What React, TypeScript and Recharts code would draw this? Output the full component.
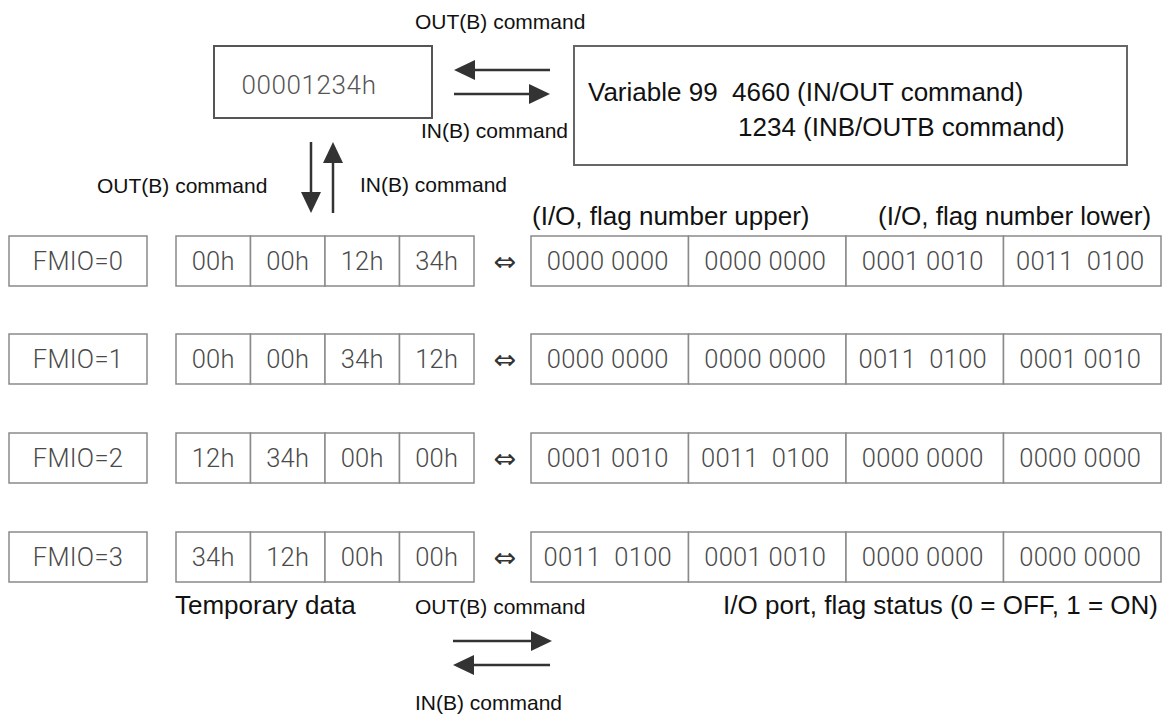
import React from 'react';
import {
  ComposedChart,
  XAxis,
  YAxis,
  ReferenceArea,
  ReferenceLine,
  ReferenceDot,
} from 'recharts';

// --- text / values ---
const FMIO_LABELS = ['FMIO=0', 'FMIO=1', 'FMIO=2', 'FMIO=3'];
const TEMP_BYTES = [
  ['00h', '00h', '12h', '34h'],
  ['00h', '00h', '34h', '12h'],
  ['12h', '34h', '00h', '00h'],
  ['34h', '12h', '00h', '00h'],
];
const PORT_BITS = [
  ['0000 0000', '0000 0000', '0001 0010', '0011  0100'],
  ['0000 0000', '0000 0000', '0011  0100', '0001 0010'],
  ['0001 0010', '0011  0100', '0000 0000', '0000 0000'],
  ['0011  0100', '0001 0010', '0000 0000', '0000 0000'],
];
const REGISTER_VALUE = '00001234h';
const VARIABLE_LINES = ['Variable 99  4660 (IN/OUT command)', '1234 (INB/OUTB command)'];
const CAPTIONS = [
  'OUT(B) command',
  'IN(B) command',
  'OUT(B) command',
  'IN(B) command',
  '(I/O, flag number upper)',
  '(I/O, flag number lower)',
  'Temporary data',
  'OUT(B) command',
  'I/O port, flag status (0 = OFF, 1 = ON)',
  'IN(B) command',
];

// --- layout (px in a 1163 x 715 frame) ---
const W = 1163;
const H = 715;
const ROW_TOP = [236, 334, 433, 532];
const ROW_H = 50;
const FMIO_BOX = [9, 147];
const HEX_X0 = 176;
const HEX_W = 74.5;
const BIN_X0 = 531;
const BIN_W = 157.5;
const BIN_TEXT_SHIFT = -2;
const SWAP_X = 505;

const CAPTION_POS = [
  { x: 415, y: 21, size: 21, anchor: 'start' },
  { x: 421, y: 130, size: 21, anchor: 'start' },
  { x: 97, y: 185, size: 21, anchor: 'start' },
  { x: 360, y: 184, size: 21, anchor: 'start' },
  { x: 532, y: 216, size: 26, anchor: 'start' },
  { x: 878, y: 216, size: 26, anchor: 'start' },
  { x: 175, y: 605, size: 26, anchor: 'start' },
  { x: 415, y: 606, size: 21, anchor: 'start' },
  { x: 1158, y: 605, size: 26, anchor: 'end' },
  { x: 415, y: 702, size: 21, anchor: 'start' },
];
const VARIABLE_POS = [
  { x: 588, y: 92 },
  { x: 738, y: 127 },
];

// arrows: from -> tip
const ARROWS = [
  { x1: 550, y1: 70, x2: 454, y2: 70 },
  { x1: 454, y1: 94, x2: 550, y2: 94 },
  { x1: 311, y1: 142, x2: 311, y2: 213 },
  { x1: 333, y1: 213, x2: 333, y2: 142 },
  { x1: 453, y1: 641, x2: 552, y2: 641 },
  { x1: 550, y1: 665, x2: 453, y2: 665 },
];

const LABEL_FONT = '"Liberation Sans", Arial, sans-serif';
const CELL_FONT = 'Roboto, "Liberation Sans", sans-serif';
const ARROW_COLOR = '#333';
const CELL_STROKE = '#8a8a8a';

const textShape =
  (text: string, size: number, anchor: string, fill: string, family: string, weight = 400, spacing = 0) =>
  (p: any) => (
    <text
      x={p.cx}
      y={p.cy}
      textAnchor={anchor}
      dominantBaseline="central"
      fontSize={size}
      fontFamily={family}
      fontWeight={weight}
      letterSpacing={spacing}
      fill={fill}
      style={{ whiteSpace: 'pre' }}
    >
      {text}
    </text>
  );

const headShape = (dx: number, dy: number) => (p: any) => {
  const len = 21;
  const half = 10;
  const bx = p.cx - dx * len;
  const by = p.cy - dy * len;
  const px = -dy * half;
  const py = dx * half;
  return (
    <path
      d={`M${p.cx},${p.cy} L${bx + px},${by + py} L${bx - px},${by - py} Z`}
      fill={ARROW_COLOR}
    />
  );
};

const Cell = (x1: number, x2: number, y1: number, key: string) => (
  <ReferenceArea
    key={key}
    x1={x1}
    x2={x2}
    y1={y1}
    y2={y1 + ROW_H}
    fill="#fff"
    fillOpacity={1}
    stroke={CELL_STROKE}
    strokeWidth={1.5}
    ifOverflow="visible"
  />
);

const CellText = (x: number, y: number, text: string, key: string) => (
  <ReferenceDot
    key={key}
    x={x}
    y={y}
    r={0}
    ifOverflow="visible"
    shape={textShape(text, 25.5, 'middle', '#4a4a4a', CELL_FONT, 300, 0.3)}
  />
);

export default function App() {
  const marks: React.ReactNode[] = [];

  ROW_TOP.forEach((top, r) => {
    const cy = top + ROW_H / 2;
    marks.push(Cell(FMIO_BOX[0], FMIO_BOX[1], top, `f${r}`));
    marks.push(CellText((FMIO_BOX[0] + FMIO_BOX[1]) / 2, cy, FMIO_LABELS[r], `ft${r}`));
    TEMP_BYTES[r].forEach((b, i) => {
      const x1 = HEX_X0 + i * HEX_W;
      marks.push(Cell(x1, x1 + HEX_W, top, `h${r}${i}`));
      marks.push(CellText(x1 + HEX_W / 2, cy, b, `ht${r}${i}`));
    });
    PORT_BITS[r].forEach((b, i) => {
      const x1 = BIN_X0 + i * BIN_W;
      marks.push(Cell(x1, x1 + BIN_W, top, `b${r}${i}`));
      marks.push(CellText(x1 + BIN_W / 2 + BIN_TEXT_SHIFT, cy, b, `bt${r}${i}`));
    });
    marks.push(
      <ReferenceDot
        key={`sw${r}`}
        x={SWAP_X}
        y={cy}
        r={0}
        ifOverflow="visible"
        shape={textShape('\u21D4', 27, 'middle', '#333', '"DejaVu Sans", sans-serif')}
      />
    );
  });

  ARROWS.forEach((a, i) => {
    const len = Math.hypot(a.x2 - a.x1, a.y2 - a.y1);
    const dx = (a.x2 - a.x1) / len;
    const dy = (a.y2 - a.y1) / len;
    marks.push(
      <ReferenceLine
        key={`as${i}`}
        segment={[
          { x: a.x1, y: a.y1 },
          { x: a.x2 - dx * 10, y: a.y2 - dy * 10 },
        ]}
        stroke={ARROW_COLOR}
        strokeWidth={2.5}
        ifOverflow="visible"
      />
    );
    marks.push(
      <ReferenceDot
        key={`ah${i}`}
        x={a.x2}
        y={a.y2}
        r={0}
        ifOverflow="visible"
        shape={headShape(dx, dy)}
      />
    );
  });

  CAPTIONS.forEach((c, i) => {
    const p = CAPTION_POS[i];
    marks.push(
      <ReferenceDot
        key={`c${i}`}
        x={p.x}
        y={p.y}
        r={0}
        ifOverflow="visible"
        shape={textShape(c, p.size, p.anchor, '#111', LABEL_FONT)}
      />
    );
  });

  VARIABLE_LINES.forEach((t, i) => {
    const p = VARIABLE_POS[i];
    marks.push(
      <ReferenceDot
        key={`v${i}`}
        x={p.x}
        y={p.y}
        r={0}
        ifOverflow="visible"
        shape={textShape(t, 26, 'start', '#111', LABEL_FONT)}
      />
    );
  });

  return (
    <div style={{ position: 'absolute', left: 0, top: 0, background: '#fff' }}>
      <ComposedChart width={W} height={H} margin={{ top: 0, right: 0, bottom: 0, left: 0 }}>
        <XAxis type="number" dataKey="x" domain={[0, W]} allowDataOverflow hide />
        <YAxis type="number" dataKey="y" domain={[0, H]} allowDataOverflow reversed hide />
        {/* register box and variable box */}
        <ReferenceArea x1={214} x2={432} y1={46} y2={118} fill="#fff" fillOpacity={1} stroke="#555" strokeWidth={2} ifOverflow="visible" />
        <ReferenceArea x1={574} x2={1127} y1={46} y2={165} fill="#fff" fillOpacity={1} stroke="#666" strokeWidth={2} ifOverflow="visible" />
        <ReferenceDot
          x={309}
          y={85}
          r={0}
          ifOverflow="visible"
          shape={textShape(REGISTER_VALUE, 26, 'middle', '#555', CELL_FONT, 300, 0.6)}
        />
        {marks}
      </ComposedChart>
    </div>
  );
}
